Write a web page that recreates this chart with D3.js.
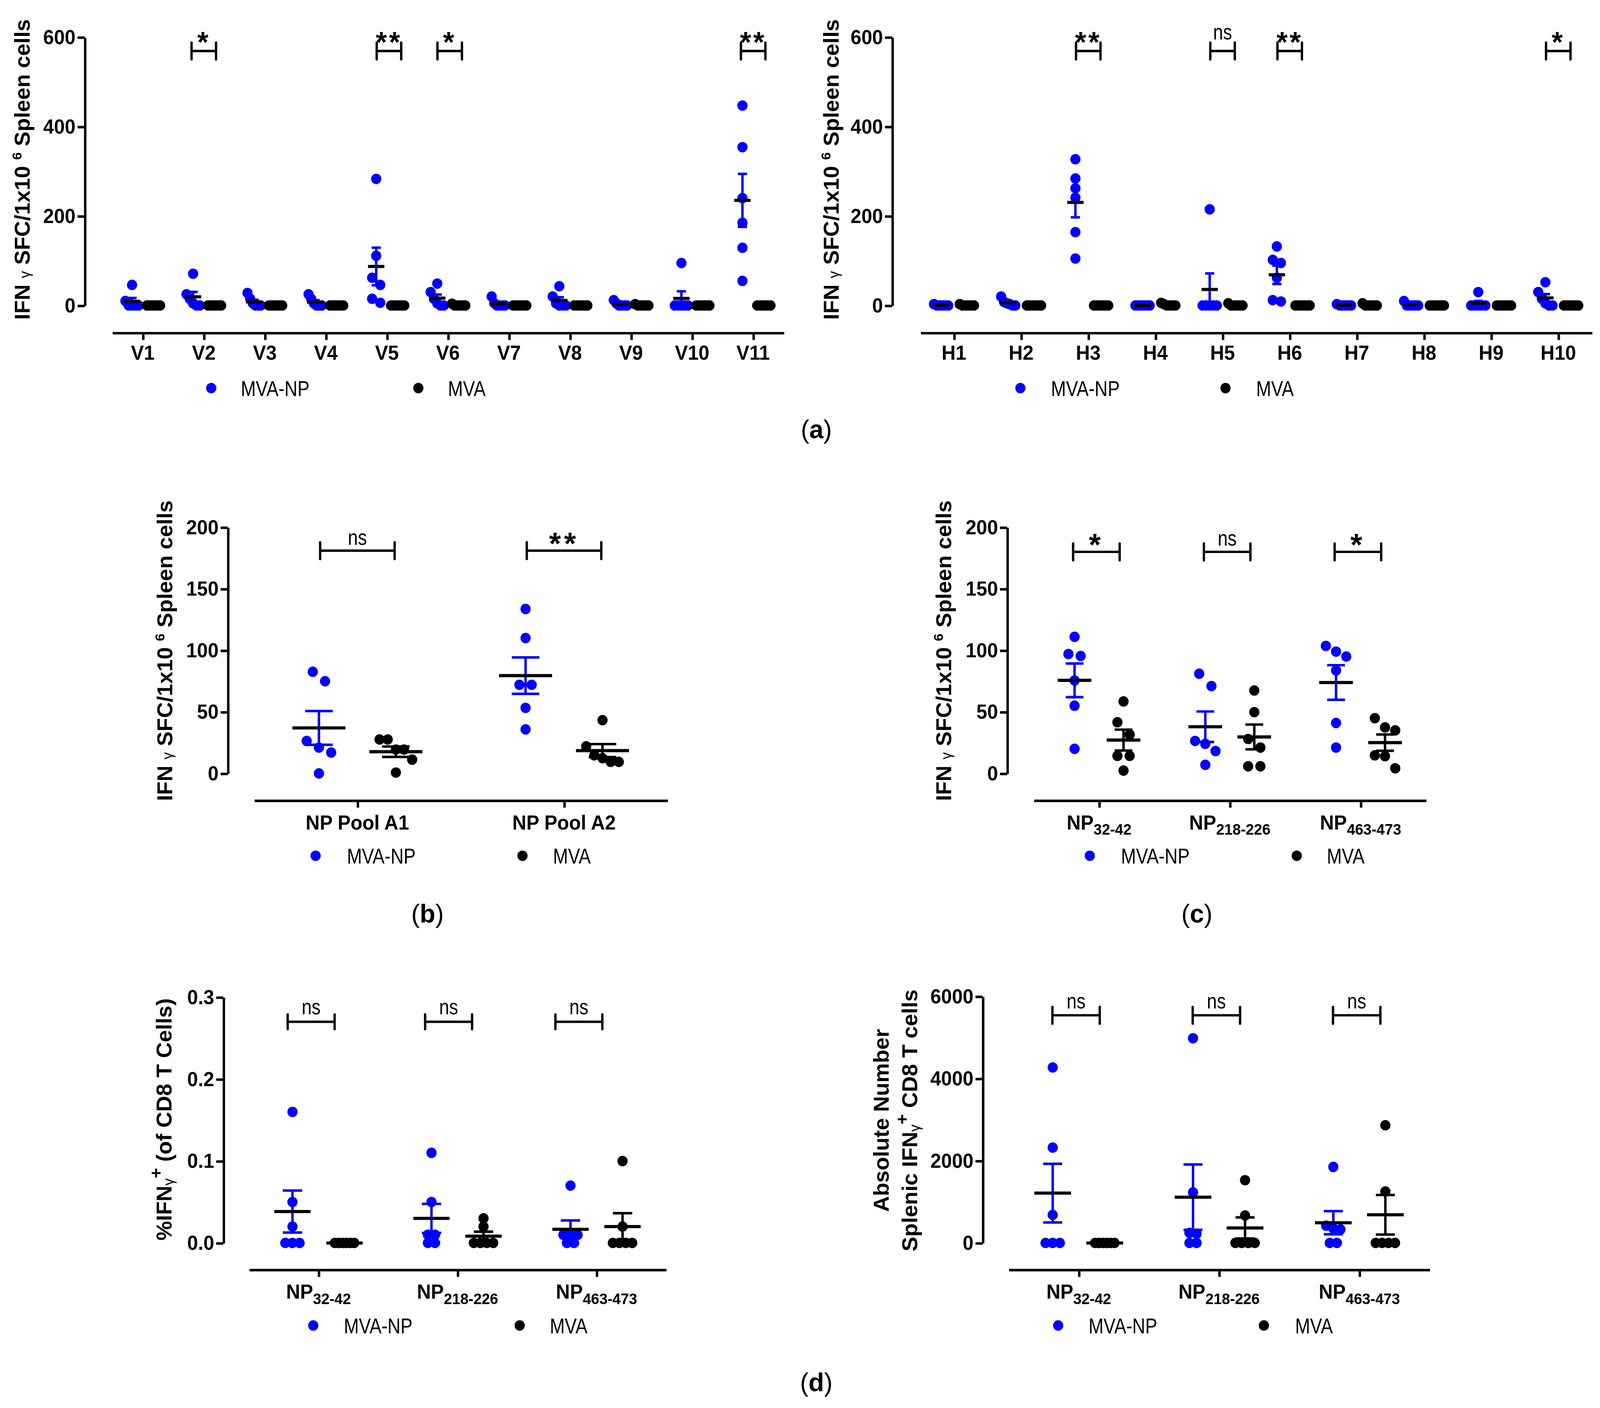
<!DOCTYPE html>
<html>
<head>
<meta charset="utf-8">
<script src="https://cdn.jsdelivr.net/npm/d3@7"></script>
<style>
  html, body { margin: 0; padding: 0; background: #fff; overflow: hidden; }
  #figura { display: block; width: 100vw; height: 100vh; }
</style>
</head>
<body>
<svg id="figura"></svg>
<script>

// ---------- dados ----------

const grupos = ["MVA-NP", "MVA"];

const peptideosV = ["V1", "V2", "V3", "V4", "V5", "V6", "V7", "V8", "V9", "V10", "V11"];
const mvaNpV = [
    [46, 10, 0, 0, 0, 0],
    [71, 25, 15, 5, 0, 0],
    [28, 15, 5, 0, 0, 0],
    [25, 15, 5, 0, 0, 0],
    [283, 111, 62, 46, 15, 6],
    [49, 30, 15, 5, 0, 0],
    [20, 5, 0, 0, 0, 0],
    [43, 20, 5, 0, 0, 0],
    [12, 5, 0, 0, 0, 0],
    [95, 0, 0, 0, 0, 0],
    [447, 354, 240, 185, 129, 55]
];
const mvaV = [
    [0, 0, 0, 0, 0, 0],
    [0, 0, 0, 0, 0, 0],
    [0, 0, 0, 0, 0, 0],
    [0, 0, 0, 0, 0, 0],
    [0, 0, 0, 0, 0, 0],
    [4, 0, 0, 0, 0, 0],
    [0, 0, 0, 0, 0, 0],
    [0, 0, 0, 0, 0, 0],
    [3, 0, 0, 0, 0, 0],
    [0, 0, 0, 0, 0, 0],
    [0, 0, 0, 0, 0, 0]
];
const sigV = ["", "*", "", "", "**", "*", "", "", "", "", "**"];

const peptideosH = ["H1", "H2", "H3", "H4", "H5", "H6", "H7", "H8", "H9", "H10"];
const mvaNpH = [
    [3, 0, 0, 0, 0, 0],
    [20, 8, 5, 3, 0, 0],
    [327, 284, 262, 241, 164, 105],
    [0, 0, 0, 0, 0, 0],
    [215, 0, 0, 0, 0, 0],
    [132, 102, 95, 62, 12, 9],
    [3, 0, 0, 0, 0, 0],
    [10, 0, 0, 0, 0, 0],
    [30, 0, 0, 0, 0, 0],
    [52, 30, 15, 5, 0, 0]
];
const mvaH = [
    [3, 0, 0, 0, 0, 0],
    [0, 0, 0, 0, 0, 0],
    [0, 0, 0, 0, 0, 0],
    [6, 3, 0, 0, 0, 0],
    [5, 0, 0, 0, 0, 0],
    [0, 0, 0, 0, 0, 0],
    [5, 0, 0, 0, 0, 0],
    [0, 0, 0, 0, 0, 0],
    [0, 0, 0, 0, 0, 0],
    [0, 0, 0, 0, 0, 0]
];
const sigH = ["", "", "**", "", "ns", "**", "", "", "", "*"];

const pools = ["NP Pool A1", "NP Pool A2"];
const mvaNpPool = [
    [82.6, 74.9, 26.4, 21, 17, 0],
    [133.6, 110, 72, 72, 53.3, 35.8]
];
const mvaPool = [
    [27.6, 27.6, 19.4, 19.4, 11.2, 0.7],
    [43.3, 22, 12.4, 9.4, 9.4, 14.7]
];
const sigPool = ["ns", "**"];

const epitopos = ["NP32-42", "NP218-226", "NP463-473"];
const mvaNpEpitopo = [
    [111, 97, 95.4, 75.5, 55, 20],
    [81, 71, 26.4, 24, 18.2, 7],
    [103.6, 99, 95, 83.7, 41, 21]
];
const mvaEpitopo = [
    [58.5, 41.6, 31.6, 14.3, 14.3, 2.3],
    [67.4, 49.8, 28, 21, 5.8, 5.8],
    [44.9, 37.4, 35, 14.7, 14, 4.2]
];
const sigEpitopo = ["*", "ns", "*"];

const mvaNpPct = [
    [0.16, 0.05, 0.02, 0, 0, 0],
    [0.11, 0.05, 0.01, 0.01, 0, 0],
    [0.07, 0.01, 0.01, 0.01, 0, 0]
];
const mvaPct = [
    [0, 0, 0, 0, 0, 0],
    [0.03, 0.02, 0, 0, 0, 0],
    [0.1, 0.02, 0, 0, 0, 0]
];
const sigPct = ["ns", "ns", "ns"];

const mvaNpAbs = [
    [4270, 2321, 682, 0, 0, 0],
    [4980, 1231, 246, 225, 0, 0],
    [1850, 420, 350, 330, 0, 0]
];
const mvaAbs = [
    [0, 0, 0, 0, 0, 0],
    [1526, 668, 0, 0, 0, 0],
    [2863, 1252, 0, 0, 0, 0]
];
const sigAbs = ["ns", "ns", "ns"];


// ---------- aparencia ----------

const AZUL = "#0000ff";
const PRETO = "#000000";
const cores = [AZUL, PRETO];
const FONTE = "'Liberation Sans', Arial, Helvetica, sans-serif";
const ESTREITO = 0.84;   // legenda e "ns" em fonte condensada
const RAIO = 5;
const TRACO = 2.4;

const svg = d3.select("#figura")
    .attr("viewBox", "0 0 1568 1345.87")
    .attr("preserveAspectRatio", "none")
    .style("background", "#fff")
    .style("font-family", FONTE);


// espalha pontos com valores parecidos lado a lado (como no GraphPad)
function enxame(valores, y, minD, maxOff) {

    const pts = valores.map(v => ({ v, py: y(v) })).sort((a, b) => a.py - b.py);
    const blocos = [];
    let atual = [];

    pts.forEach(p => {
        if (atual.length && p.py - atual[atual.length - 1].py >= minD) {
            blocos.push(atual);
            atual = [];
        }
        atual.push(p);
    });
    if (atual.length) blocos.push(atual);

    blocos.forEach(b => {
        const n = b.length;
        const passo = n > 1 ? Math.min(minD, 2 * maxOff / (n - 1)) : 0;
        b.forEach((p, i) => p.dx = (i - (n - 1) / 2) * passo);
    });
    return pts;
}


function textoEstreito(g, x, y, texto, tamanho, peso) {
    return g.append("text")
        .attr("transform", `translate(${x},${y}) scale(${ESTREITO},1)`)
        .attr("font-size", tamanho)
        .attr("font-weight", peso || "normal")
        .attr("fill", PRETO)
        .text(texto);
}


// titulo do eixo y, girado
function tituloY(g, cfg) {

    const t = cfg.titulo;

    const partesSfc = [
        { t: "IFN ", b: true },
        { t: "\u03b3", s: 14, b: false },
        { t: " SFC/1x10 ", b: true },
        { t: "6", s: 13, b: true, dy: -8 },
        { t: " Spleen cells", b: true, dy: 8 }
    ];
    const partesPct = [
        { t: "%IFN", b: true },
        { t: "\u03b3", s: 14, b: false, dy: 2 },
        { t: "+", s: 17, b: true, dy: -11 },
        { t: " (of CD8 T Cells)", b: true, dy: 9 }
    ];
    const partesAbs = [
        { t: "Splenic IFN", b: true },
        { t: "\u03b3", s: 14, b: false, dy: 2 },
        { t: "+", s: 17, b: true, dy: -11 },
        { t: " CD8 T cells", b: true, dy: 9 }
    ];

    const linhas = [];
    if (t.tipo === "sfc") linhas.push({ x: t.x, partes: partesSfc });
    if (t.tipo === "pct") linhas.push({ x: t.x, partes: partesPct });
    if (t.tipo === "abs") {
        linhas.push({ x: t.x[0], partes: [{ t: "Absolute Number", b: true }] });
        linhas.push({ x: t.x[1], partes: partesAbs });
    }

    linhas.forEach(l => {
        const txt = g.append("text")
            .attr("transform", `translate(${l.x},${t.y}) rotate(-90)`)
            .attr("text-anchor", "middle")
            .attr("font-size", 21)
            .attr("fill", PRETO);
        l.partes.forEach(p => {
            txt.append("tspan")
                .attr("font-size", p.s || 21)
                .attr("font-weight", p.b ? "bold" : "normal")
                .attr("dy", p.dy || 0)
                .text(p.t);
        });
    });
}


function estilizarEixo(sel) {
    sel.attr("font-family", null).attr("font-size", null);
    sel.select(".domain").attr("stroke", PRETO).attr("stroke-width", TRACO);
    sel.selectAll(".tick line").attr("stroke", PRETO).attr("stroke-width", TRACO);
    sel.selectAll(".tick text")
        .attr("font-size", 19)
        .attr("font-weight", "bold")
        .attr("fill", PRETO);
}


function desenharPainel(cfg) {

    const g = svg.append("g");

    const x = d3.scalePoint().domain(cfg.categorias).range(cfg.xRange).padding(0.5);
    const xg = d3.scalePoint().domain(grupos).range([-cfg.offGrupo, cfg.offGrupo]);
    const y = d3.scaleLinear().domain(cfg.yDomain).range(cfg.yRange);

    //Eixo Y
    g.append("g")
        .attr("transform", `translate(${cfg.xEixoY},0)`)
        .call(d3.axisLeft(y).tickValues(cfg.yTicks).tickFormat(cfg.yFormat)
            .tickSize(7).tickSizeOuter(0).tickPadding(2))
        .call(estilizarEixo);

    //Eixo X (linha separada, abaixo do zero)
    const eixoX = g.append("g")
        .attr("transform", `translate(0,${cfg.yEixoX})`)
        .call(d3.axisBottom(x).tickSize(7).tickSizeOuter(0).tickFormat(""))
        .call(estilizarEixo);
    eixoX.selectAll(".tick text").remove();

    //Rotulos das categorias, com subscrito quando for epitopo
    cfg.categorias.forEach(cat => {
        const txt = g.append("text")
            .attr("x", x(cat))
            .attr("y", cfg.yRotulo)
            .attr("text-anchor", "middle")
            .attr("font-weight", "bold")
            .attr("font-size", 19)
            .attr("fill", PRETO);
        const m = cat.match(/^NP(\d.*)$/);
        if (m) {
            txt.append("tspan").text("NP");
            txt.append("tspan").attr("font-size", 14.5).attr("dy", 5).text(m[1]);
        } else {
            txt.text(cat);
        }
    });

    tituloY(g, cfg);

    //Pontos, media e erro padrao
    const camadaPontos = g.append("g");
    const camadaErro = g.append("g");
    const camadaMedia = g.append("g");

    cfg.categorias.forEach((cat, i) => {
        grupos.forEach((grp, k) => {

            const valores = cfg.series[k][i];
            const cx = x(cat) + xg(grp);
            const pts = enxame(valores, y, cfg.minD, cfg.maxOff);

            camadaPontos.selectAll(null)
                .data(pts)
                .enter()
                .append("circle")
                    .attr("cx", d => cx + d.dx)
                    .attr("cy", d => d.py)
                    .attr("r", RAIO)
                    .attr("fill", cores[k]);

            const media = d3.mean(valores);
            const ep = d3.deviation(valores) / Math.sqrt(valores.length);

            if (ep > 0) {
                camadaErro.append("line")
                    .attr("x1", cx).attr("x2", cx)
                    .attr("y1", y(media - ep)).attr("y2", y(media + ep))
                    .attr("stroke", cores[k]).attr("stroke-width", TRACO);
                [media - ep, media + ep].forEach(v => {
                    camadaErro.append("line")
                        .attr("x1", cx - cfg.meiaCap).attr("x2", cx + cfg.meiaCap)
                        .attr("y1", y(v)).attr("y2", y(v))
                        .attr("stroke", cores[k]).attr("stroke-width", TRACO);
                });
            }

            camadaMedia.append("line")
                .attr("x1", cx - cfg.meiaMedia).attr("x2", cx + cfg.meiaMedia)
                .attr("y1", y(media)).attr("y2", y(media))
                .attr("stroke", PRETO).attr("stroke-width", 3);
        });

        //Chave de significancia
        const sig = cfg.sig[i];
        if (sig) {
            const desvio = Array.isArray(cfg.desvioChave) ? cfg.desvioChave[i] : cfg.desvioChave;
            const xc = x(cat) + desvio;
            const yc = y(cfg.valorChave);
            const x0 = xc - cfg.meiaChave;
            const x1 = xc + cfg.meiaChave;
            const h = cfg.alturaChave;
            g.append("path")
                .attr("d", `M${x0},${yc - h}V${yc + h}M${x0},${yc}H${x1}M${x1},${yc - h}V${yc + h}`)
                .attr("fill", "none")
                .attr("stroke", PRETO)
                .attr("stroke-width", 2.3)
                .attr("stroke-linecap", "round");
            if (sig === "ns") {
                textoEstreito(g, xc, yc + cfg.dyNs, "ns", 21).attr("text-anchor", "middle");
            } else {
                g.append("text")
                    .attr("x", xc)
                    .attr("y", yc + cfg.dyEstrela)
                    .attr("text-anchor", "middle")
                    .attr("font-weight", "bold")
                    .attr("font-size", cfg.fonteEstrela)
                    .attr("letter-spacing", cfg.espacoEstrela)
                    .attr("fill", PRETO)
                    .text(sig);
            }
        }
    });

    //Legenda
    grupos.forEach((grp, k) => {
        g.append("circle")
            .attr("cx", cfg.legenda.pts[k])
            .attr("cy", cfg.legenda.y)
            .attr("r", RAIO)
            .attr("fill", cores[k]);
        textoEstreito(g, cfg.legenda.txt[k], cfg.legenda.y + 7.5, grp, 21);
    });
}


function rotuloPainel(letra, x, y) {
    const t = svg.append("text")
        .attr("x", x).attr("y", y)
        .attr("text-anchor", "middle")
        .attr("font-size", 25)
        .attr("fill", PRETO);
    t.append("tspan").text("(");
    t.append("tspan").attr("font-weight", "bold").text(letra);
    t.append("tspan").text(")");
}


const comum = {
    meiaMedia: 8, meiaCap: 4.5, alturaChave: 8, desvioChave: 0,
    fonteEstrela: 28, espacoEstrela: 2, dyEstrela: 1, dyNs: -11, minD: 8
};

desenharPainel({
    ...comum,
    categorias: peptideosV, series: [mvaNpV, mvaV], sig: sigV,
    xRange: [110, 768], offGrupo: 10.5,
    yDomain: [0, 600], yRange: [292, 35.5], yTicks: [0, 200, 400, 600], yFormat: d3.format("d"),
    xEixoY: 83, yEixoX: 318, yRotulo: 344,
    maxOff: 6.5, valorChave: 569, meiaChave: 12, desvioChave: [0, 0, 0, 0, 2, 1.7, 0, 0, 0, 0, 0],
    titulo: { x: 29, y: 162, tipo: "sfc" },
    legenda: { y: 371, pts: [207, 410], txt: [236, 439] }
});

desenharPainel({
    ...comum,
    categorias: peptideosH, series: [mvaNpH, mvaH], sig: sigH,
    xRange: [902, 1560], offGrupo: 12.6,
    yDomain: [0, 600], yRange: [292, 35.5], yTicks: [0, 200, 400, 600], yFormat: d3.format("d"),
    xEixoY: 874.3, yEixoX: 318, yRotulo: 344,
    maxOff: 7, valorChave: 569, meiaChave: 12,
    titulo: { x: 822, y: 162, tipo: "sfc" },
    legenda: { y: 371, pts: [1000, 1201], txt: [1030, 1231] }
});

desenharPainel({
    ...comum,
    categorias: pools, series: [mvaNpPool, mvaPool], sig: sigPool,
    xRange: [249, 654], offGrupo: 37.7,
    yDomain: [0, 200], yRange: [739.3, 504], yTicks: [0, 50, 100, 150, 200], yFormat: d3.format("d"),
    xEixoY: 223.2, yEixoX: 765, yRotulo: 793,
    minD: 12, maxOff: 16, meiaMedia: 26, meiaCap: 13.5,
    valorChave: 181, meiaChave: 36.5, fonteEstrela: 30, espacoEstrela: 3, dyEstrela: 3.5, dyNs: -5.5,
    titulo: { x: 169, y: 622, tipo: "sfc" },
    legenda: { y: 818, pts: [309.3, 512], txt: [340, 542] }
});

desenharPainel({
    ...comum,
    categorias: epitopos, series: [mvaNpEpitopo, mvaEpitopo], sig: sigEpitopo,
    xRange: [1013, 1397.4], offGrupo: 24,
    yDomain: [0, 200], yRange: [739.3, 504], yTicks: [0, 50, 100, 150, 200], yFormat: d3.format("d"),
    xEixoY: 987, yEixoX: 765, yRotulo: 793,
    minD: 12, maxOff: 10, meiaMedia: 16.5, meiaCap: 8.7,
    valorChave: 180, meiaChave: 22.8, desvioChave: -2.6, fonteEstrela: 30, espacoEstrela: 3, dyEstrela: 3.5, dyNs: -6,
    titulo: { x: 932, y: 622, tipo: "sfc" },
    legenda: { y: 818, pts: [1068, 1270.8], txt: [1098.6, 1300.3] }
});

desenharPainel({
    ...comum,
    categorias: epitopos, series: [mvaNpPct, mvaPct], sig: sigPct,
    xRange: [244, 652.7], offGrupo: 25.5,
    yDomain: [0, 0.3], yRange: [1188.1, 953.2], yTicks: [0, 0.1, 0.2, 0.3], yFormat: d3.format(".1f"),
    xEixoY: 218.9, yEixoX: 1213.6, yRotulo: 1241.5,
    minD: 7, maxOff: 9.5, meiaMedia: 17.8, meiaCap: 9.5,
    valorChave: 0.27, meiaChave: 23, desvioChave: [-7.2, -8.7, -17.3], alturaChave: 7, dyNs: -7,
    titulo: { x: 168, y: 1070, tipo: "pct" },
    legenda: { y: 1267, pts: [307, 509.3], txt: [337, 538.8] }
});

desenharPainel({
    ...comum,
    categorias: epitopos, series: [mvaNpAbs, mvaAbs], sig: sigAbs,
    xRange: [988.4, 1400.9], offGrupo: 25.5,
    yDomain: [0, 6000], yRange: [1188.1, 952.4], yTicks: [0, 2000, 4000, 6000], yFormat: d3.format("d"),
    xEixoY: 963, yEixoX: 1213.6, yRotulo: 1241.5,
    minD: 7, maxOff: 9.5, meiaMedia: 18, meiaCap: 9.3,
    valorChave: 5540, meiaChave: 23.2, desvioChave: -2.6, dyNs: -6.6,
    titulo: { x: [871, 899], y: 1071, tipo: "abs" },
    legenda: { y: 1267, pts: [1037, 1238.6], txt: [1066.8, 1269.2] }
});

rotuloPainel("a", 800, 419);
rotuloPainel("b", 419, 882);
rotuloPainel("c", 1173, 882);
rotuloPainel("d", 800, 1330);

</script>
</body>
</html>
